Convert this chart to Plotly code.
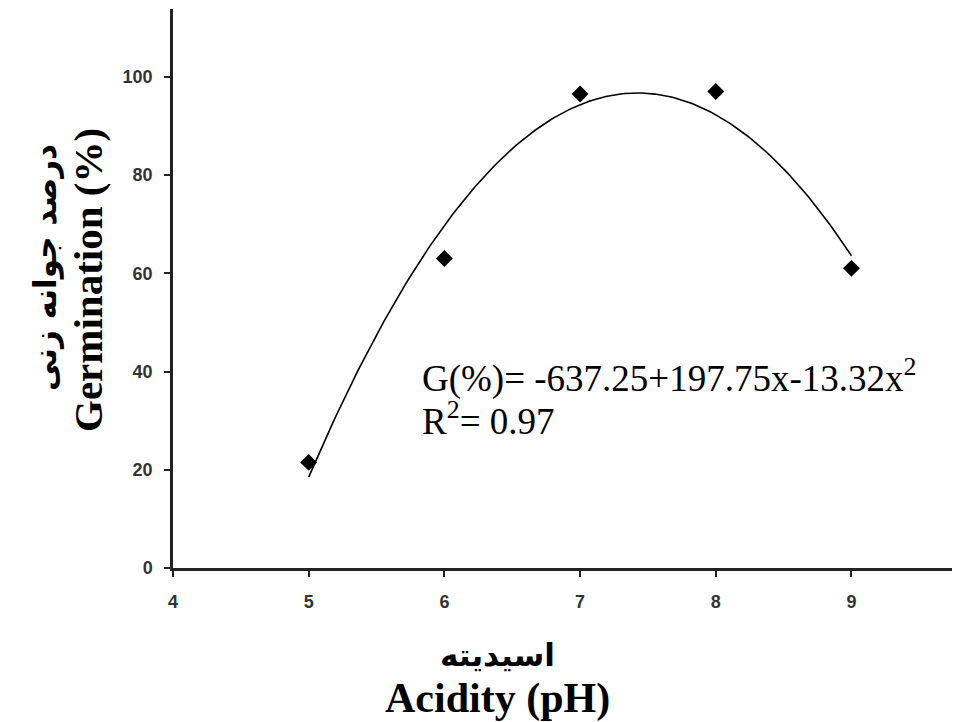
import numpy as np
import plotly.graph_objects as go

ph = [5, 6, 7, 8, 9]
germination = [21.5, 63.0, 96.5, 97.0, 61.0]
fit_coeffs = [-637.25, 197.75, -13.32]   # G = a + b x + c x^2
x_ticks = [4, 5, 6, 7, 8, 9]
y_ticks = [0, 20, 40, 60, 80, 100]

xf = np.linspace(min(ph), max(ph), 200)
yf = fit_coeffs[0] + fit_coeffs[1] * xf + fit_coeffs[2] * xf ** 2

fig = go.Figure()
fig.add_trace(go.Scatter(x=xf, y=yf, mode="lines",
                         line=dict(color="black", width=1.6), hoverinfo="skip"))
fig.add_trace(go.Scatter(x=ph, y=germination, mode="markers",
                         marker=dict(symbol="diamond", size=13, color="black")))

# page offset: browser body margin of 8px
OX, OY = 8, 8
L, T, R, B = 173, 9, 960, 568   # plot area in page pixels
W, H = 960 - OX, 722 - OY

tickfont = dict(family="Liberation Sans, Arial", size=18, color="#333333", weight="bold")
fig.update_layout(
    width=W, height=H,
    margin=dict(l=L - OX, r=W - (R - OX), t=T - OY, b=H - (B - OY)),
    paper_bgcolor="white", plot_bgcolor="white",
    showlegend=False,
    xaxis=dict(range=[4, 9.8], tickvals=x_ticks, ticks="outside", ticklen=6, tickwidth=2,
               tickcolor="#222", showline=True, linecolor="#222", linewidth=2.5,
               showgrid=False, zeroline=False, tickfont=tickfont, ticklabelstandoff=10),
    yaxis=dict(range=[0, 113.8], tickvals=y_ticks, ticks="outside", ticklen=6, tickwidth=2,
               tickcolor="#222", showline=True, linecolor="#222", linewidth=2.5,
               showgrid=False, zeroline=False, tickfont=tickfont, ticklabelstandoff=8),
)

PW, PH = R - L, B - T


def px(x):
    return (x - L) / PW


def py(y):
    return 1 - (y - T) / PH


serif = "Liberation Serif, Times New Roman"
fig.add_annotation(xref="paper", yref="paper", x=px(420), y=py(376),
                   xanchor="left", yanchor="middle", showarrow=False,
                   text="G(%)= -637.25+197.75x-13.32x<sup>2</sup>",
                   font=dict(family=serif, size=37, color="black"))
fig.add_annotation(xref="paper", yref="paper", x=px(420), y=py(418),
                   xanchor="left", yanchor="middle", showarrow=False,
                   text="R<sup>2</sup>= 0.97",
                   font=dict(family=serif, size=37, color="black"))

# y-axis titles
fig.add_annotation(xref="paper", yref="paper", x=px(88), y=py(280),
                   xanchor="center", yanchor="middle", showarrow=False, textangle=-90,
                   text="<b>Germination (%)</b>", font=dict(family=serif, size=41, color="black"))
fig.add_annotation(xref="paper", yref="paper", x=px(45), y=py(268),
                   xanchor="center", yanchor="middle", showarrow=False, textangle=-90,
                   text="<b>درصد جوانه زنی</b>", font=dict(family="DejaVu Sans", size=31, color="black"))

# x-axis titles
fig.add_annotation(xref="paper", yref="paper", x=px(497), y=py(655),
                   xanchor="center", yanchor="middle", showarrow=False,
                   text="<b>اسیدیته</b>", font=dict(family="DejaVu Sans", size=31, color="black"))
fig.add_annotation(xref="paper", yref="paper", x=px(497), y=py(698),
                   xanchor="center", yanchor="middle", showarrow=False,
                   text="<b>Acidity (pH)</b>", font=dict(family=serif, size=42, color="black"))

fig.write_html("out.html")
